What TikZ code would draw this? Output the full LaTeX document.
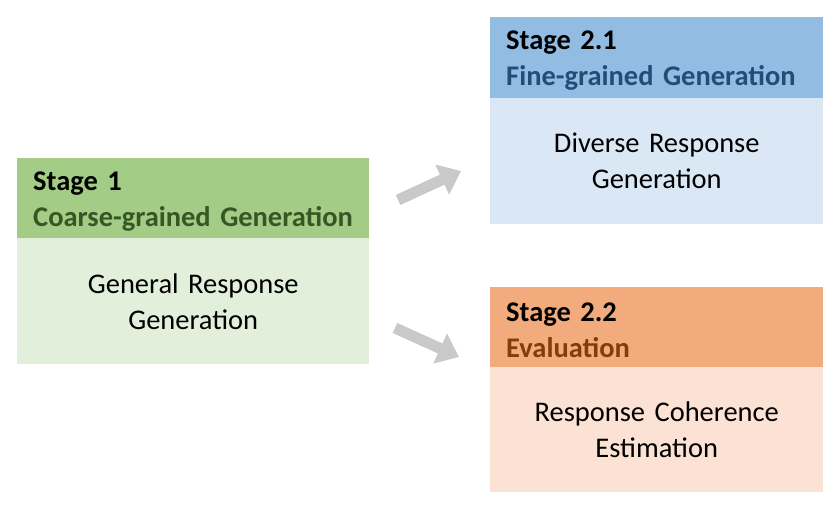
\documentclass[tikz,border=0pt]{standalone}
\usepackage{fontspec}
\setmainfont{Carlito}
\usetikzlibrary{arrows.meta,positioning}
\definecolor{greenhead}{HTML}{A3CC86}
\definecolor{greenbody}{HTML}{E2EFDA}
\definecolor{greentext}{HTML}{375623}
\definecolor{bluehead}{HTML}{92BCE2}
\definecolor{bluebody}{HTML}{DAE8F6}
\definecolor{bluetext}{HTML}{1F4E79}
\definecolor{orangehead}{HTML}{F2AB7C}
\definecolor{orangebody}{HTML}{FBE2D4}
\definecolor{orangetext}{HTML}{843C0C}
\colorlet{arrowgray}{black!21}
\tikzset{
  stagehead/.style={anchor=north west,inner xsep=0.48cm,inner ysep=0pt,align=left,
    yshift=-0.09cm,font=\fontsize{24.3}{30.7}\selectfont\bfseries},
  stagebody/.style={anchor=north west,inner sep=0pt,align=center,
    font=\fontsize{24.3}{30.7}\selectfont},
  blockarrow/.style={line width=0.33cm,arrowgray,
    -{Triangle[width=0.95cm,length=0.62cm]}}
}

\begin{document}
\begin{tikzpicture}[x=0.03cm,y=-0.03cm]
\useasboundingbox (0,0) rectangle (838,511);
% stage 1
\fill[greenhead] (17,158) rectangle (369,238);
\fill[greenbody] (17,238) rectangle (369,364);
\node[stagehead,text width=9.6cm,minimum height=2.4cm] (s1head) at (17,158)
  {Stage 1\\\textcolor{greentext}{Coarse-grained Generation}};
\node[stagebody,text width=10.56cm,minimum height=3.78cm] (s1body) at (17,238)
  {General Response\\Generation};
% stage 2.1
\fill[bluehead] (490,17) rectangle (823,98);
\fill[bluebody] (490,98) rectangle (823,224);
\node[stagehead,text width=9.03cm,minimum height=2.43cm] (s21head) at (490,17)
  {Stage 2.1\\\textcolor{bluetext}{Fine-grained Generation}};
\node[stagebody,text width=9.99cm,minimum height=3.78cm] (s21body) at (490,98)
  {Diverse Response\\Generation};
% stage 2.2
\fill[orangehead] (490,287) rectangle (823,367);
\fill[orangebody] (490,367) rectangle (823,492);
\node[stagehead,text width=9.03cm,minimum height=2.4cm] (s22head) at (490,287)
  {Stage 2.2\\\textcolor{orangetext}{Evaluation}};
\node[stagebody,text width=9.99cm,minimum height=3.75cm] (s22body) at (490,367)
  {Response Coherence\\Estimation};
% arrows
\coordinate (upfrom) at (398,200);
\coordinate (upto) at (461,171);
\coordinate (downfrom) at (395,328);
\coordinate (downto) at (459,357);
\draw[blockarrow] (upfrom) -- (upto);
\draw[blockarrow] (downfrom) -- (downto);
\end{tikzpicture}
\end{document}
